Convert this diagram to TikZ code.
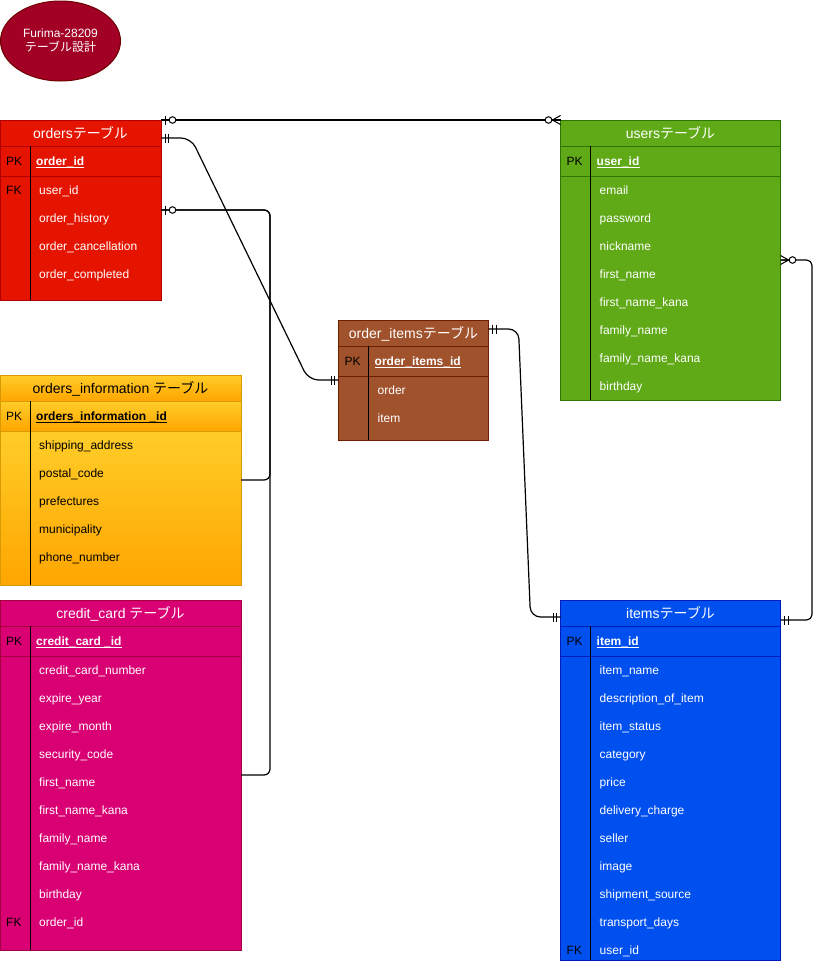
\documentclass[tikz,border=0pt]{standalone}
\usepackage{fontspec}
\setmainfont{Liberation Sans}
\newfontfamily\jp{Noto Sans CJK JP}
\usetikzlibrary{calc,shapes.geometric}
\definecolor{redF}{HTML}{E51400}\definecolor{redS}{HTML}{B20000}
\definecolor{grnF}{HTML}{60A917}\definecolor{grnS}{HTML}{2D7600}
\definecolor{brnF}{HTML}{A0522D}\definecolor{brnS}{HTML}{6D1F00}
\definecolor{ylwT}{HTML}{FFCD28}\definecolor{ylwB}{HTML}{FFA500}\definecolor{ylwS}{HTML}{D79B00}
\definecolor{mgtF}{HTML}{D80073}\definecolor{mgtS}{HTML}{A50040}
\definecolor{bluF}{HTML}{0050EF}\definecolor{bluS}{HTML}{001DBC}
\definecolor{crmF}{HTML}{A20025}\definecolor{crmS}{HTML}{6F0000}
\tikzset{
  redsec/.style={fill=redF, draw=redS, line width=1pt},
  grnsec/.style={fill=grnF, draw=grnS, line width=1pt},
  brnsec/.style={fill=brnF, draw=brnS, line width=1pt},
  ylwsec/.style={top color=ylwT, bottom color=ylwB, draw=ylwS, line width=1pt},
  mgtsec/.style={fill=mgtF, draw=mgtS, line width=1pt},
  blusec/.style={fill=bluF, draw=bluS, line width=1pt},
  hdr/.style={anchor=base, inner sep=0pt, font=\fontsize{14}{16}\selectfont},
  keylbl/.style={anchor=base west, inner sep=0pt, font=\fontsize{12}{14}\selectfont, text=black},
  pkname/.style={anchor=base west, inner sep=0pt, font=\fontsize{12}{14}\selectfont\bfseries},
  rowtxt/.style={anchor=base west, inner sep=0pt, font=\fontsize{12}{14}\selectfont},
  divider/.style={draw=black, line width=1pt},
  conn/.style={draw=black, line width=1.2pt},
  mandone/.pic={\draw[line width=1pt] (4,-4.5) -- (4,4.5) (7.5,-4.5) -- (7.5,4.5);},
  optone/.pic={\draw[line width=1pt] (4,-4.5) -- (4,4.5);
               \draw[line width=1pt, fill=white] (11.5,0) circle (3.3pt);},
  optmany/.pic={\draw[line width=1pt] (0,-4.5) -- (8,0) -- (0,4.5) (0,0) -- (8,0);
                \draw[line width=1pt, fill=white] (12,0) circle (3.3pt);}
}
% #1 name #2 x #3 y #4 w #5 h #6 section style #7 text colour #8 header #9 pk
\newcommand{\ertable}[9]{%
  \path[#6] (#2,#3) rectangle ++(#4,26);
  \path[#6] (#2,#3+26) rectangle ++(#4,30);
  \path[#6] (#2,#3+56) rectangle ++(#4,#5-56);
  \node[anchor=north west, minimum width=#4pt, minimum height=#5pt, inner sep=0pt, outer sep=0pt] (#1) at (#2,#3) {};
  \draw[divider] (#2+30,#3+26) -- (#2+30,#3+#5);
  \node[hdr, text=#7] (#1-h) at (#2+#4/2,#3+18) {#8};
  \node[keylbl] (#1-pkl) at (#2+6,#3+45) {PK};
  \node[pkname, text=#7] (#1-pk) at (#2+36,#3+45) {#9};
  \draw[#7, line width=0.8pt] ([yshift=-2pt]#1-pk.base west) -- ([yshift=-2pt]#1-pk.base east);
}
% #1 name #2 x #3 y #4 text colour #5 rows
\newcommand{\errows}[5]{%
  \foreach \rt [count=\rn] in {#5} {\node[rowtxt, text=#4] (#1-r\rn) at (#2+39,#3+46+28*\rn) {\rt};}
}
\begin{document}
\begin{tikzpicture}[x=1pt, y=-1pt]
\fill[white] (0,0) rectangle (823,964);
\useasboundingbox (0,0) rectangle (823,964);

% title
\node[ellipse, draw=crmS, fill=crmF, line width=1pt, minimum width=120pt, minimum height=80pt,
      align=center, text=white, font=\fontsize{12}{14}\selectfont] (title) at (60.5,41)
      {Furima-28209\\{\jp テーブル設計}};

% orders
\ertable{orders}{0}{120}{161}{180}{redsec}{white}{orders{\jp テーブル}}{order\_id}
\errows{orders}{0}{120}{white}{user\_id,order\_history,order\_cancellation,order\_completed}
\node[keylbl] (orders-fk) at (6,194) {FK};

% orders_information
\ertable{info}{0}{375}{241}{210}{ylwsec}{black}{orders\_information {\jp テーブル}}{orders\_information \_id}
\errows{info}{0}{375}{black}{shipping\_address,postal\_code,prefectures,municipality,phone\_number}

% credit_card
\ertable{cc}{0}{600}{241}{350}{mgtsec}{white}{credit\_card {\jp テーブル}}{credit\_card \_id}
\errows{cc}{0}{600}{white}{credit\_card\_number,expire\_year,expire\_month,security\_code,first\_name,first\_name\_kana,family\_name,family\_name\_kana,birthday,order\_id}
\node[keylbl] (cc-fk) at (6,926) {FK};

% order_items
\ertable{oitems}{338.5}{320}{150}{120}{brnsec}{white}{order\_items{\jp テーブル}}{order\_items\_id}
\errows{oitems}{338.5}{320}{white}{order,item}

% users
\ertable{users}{560.5}{120}{220}{280}{grnsec}{white}{users{\jp テーブル}}{user\_id}
\errows{users}{560.5}{120}{white}{email,password,nickname,first\_name,first\_name\_kana,family\_name,family\_name\_kana,birthday}

% items
\ertable{items}{560.5}{600}{220}{360}{blusec}{white}{items{\jp テーブル}}{item\_id}
\errows{items}{560.5}{600}{white}{item\_name,description\_of\_item,item\_status,category,price,delivery\_charge,seller,image,shipment\_source,transport\_days,user\_id}
\node[keylbl] (items-fk) at (566.5,954) {FK};

% connector anchors
\coordinate (c2s) at ([yshift=-18pt]orders.north east);
\coordinate (c3s) at ([yshift=-9pt]oitems.north east);
\coordinate (c3t) at ([yshift=-17pt]items.north west);
\coordinate (c4t) at ([yshift=-20pt]items.north east);
\coordinate (lbus) at (270,210);
\coordinate (rbus) at (812,260);

% connectors
\draw[conn] (orders.north east) -- (users.north west);
\draw[conn, rounded corners=10pt] (c2s) -- ++(30,0) -- ($(oitems.west)+(-30,0)$) -- (oitems.west);
\draw[conn, rounded corners=10pt] (c3s) -- ++(30,0) -- ($(c3t)+(-30,0)$) -- (c3t);
\draw[conn, rounded corners=6pt] (users.east) -| (rbus |- c4t) -- (c4t);
\draw[conn, rounded corners=6pt] (orders.east) -| (lbus |- info.east) -- (info.east);
\draw[conn, rounded corners=6pt] (orders.east) -| (lbus |- cc.east) -- (cc.east);

% end markers
\pic at (orders.north east) {optone};
\pic[xscale=-1] at (users.north west) {optmany};
\pic at (c2s) {mandone};
\pic[xscale=-1] at (oitems.west) {mandone};
\pic at (c3s) {mandone};
\pic[xscale=-1] at (c3t) {mandone};
\pic at (users.east) {optmany};
\pic at (c4t) {mandone};
\pic at (orders.east) {optone};
\end{tikzpicture}
\end{document}
